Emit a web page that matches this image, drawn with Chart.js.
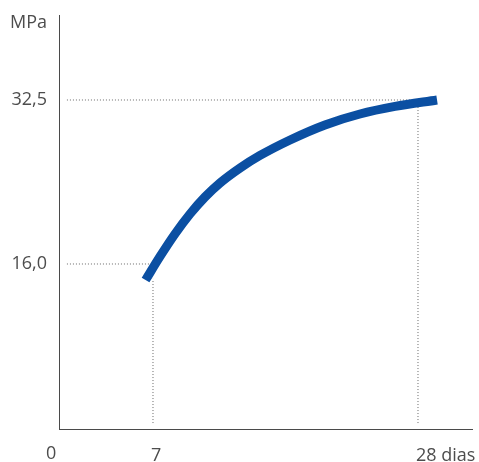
<!DOCTYPE html>
<html>
<head>
<meta charset="utf-8">
<script src="https://cdn.jsdelivr.net/npm/chart.js@4.4.1/dist/chart.umd.min.js"></script>
<style>
  html, body { margin: 0; padding: 0; background: #ffffff; }
  #wrap { width: 479px; height: 462px; position: relative; }
</style>
</head>
<body>
<div id="wrap"><canvas id="c"></canvas></div>
<script>
// ---- data ----
const curveDays = [6.41, 7.56, 8.74, 9.93, 11.12, 12.31, 13.90, 15.48, 17.86, 20.63, 23.40, 26.18, 29.51];
const curveMPa  = [14.39, 16.76, 19.02, 21.03, 22.74, 24.15, 25.66, 26.92, 28.48, 29.99, 31.09, 31.85, 32.50];
const xTickValues = [7, 28];
const xTickLabels = ['7', '28 dias'];
const xOriginLabel = '0';
const yTickValues = [16.0, 32.5];
const yTickLabels = ['16,0', '32,5'];
const yUnitLabel = 'MPa';
const markDays = [7, 28];
const markMPa = [16.0, 32.5];

const FONT = { family: '"Open Sans", "Noto Sans", sans-serif', size: 18 };
const TEXT = '#4d4d4d';
const DOT = '#6a6a6a';

const curveData = curveDays.map((d, i) => ({ x: d, y: curveMPa[i] }));
const guides = [
  [{ x: 0.18, y: markMPa[0] }, { x: 6.8, y: markMPa[0] }],
  [{ x: markDays[0], y: 0 }, { x: markDays[0], y: 14.5 }],
  [{ x: 0.18, y: markMPa[1] }, { x: markDays[1], y: markMPa[1] }],
  [{ x: markDays[1], y: 0 }, { x: markDays[1], y: 32.3 }]
];

const datasets = [{
  data: curveData,
  borderColor: '#0b4fa2',
  borderWidth: 9,
  borderCapStyle: 'butt',
  cubicInterpolationMode: 'monotone',
  pointRadius: 0,
  fill: false
}];
guides.forEach(g => datasets.push({
  data: g,
  borderColor: DOT,
  borderWidth: 1,
  borderDash: [1, 2],
  pointRadius: 0,
  tension: 0,
  fill: false
}));

const extraLabels = {
  id: 'extraLabels',
  afterDraw(chart) {
    const ctx = chart.ctx;
    const xs = chart.scales.x, ys = chart.scales.y;
    ctx.save();
    ctx.font = `${FONT.size}px ${FONT.family}`;
    ctx.fillStyle = TEXT;
    ctx.textAlign = 'right';
    ctx.textBaseline = 'middle';
    ctx.fillText(yUnitLabel, ys.right - 12, chart.chartArea.top + 8);
    ctx.textAlign = 'left';
    ctx.textBaseline = 'top';
    ctx.fillText(xOriginLabel, xs.left - 13, xs.top + 16);
    ctx.restore();
  }
};

new Chart(document.getElementById('c'), {
  type: 'line',
  data: { datasets },
  options: {
    responsive: true,
    maintainAspectRatio: false,
    animation: false,
    layout: { padding: { top: 15, right: 7, left: 0, bottom: 0 } },
    plugins: { legend: { display: false }, tooltip: { enabled: false } },
    scales: {
      x: {
        type: 'linear',
        min: -0.449,
        max: 32.28,
        grid: { display: false, drawTicks: false },
        border: { display: true, color: '#4a4a4a', width: 1 },
        afterBuildTicks: s => { s.ticks = xTickValues.map(v => ({ value: v })); },
        afterFit: s => { s.height = 33; s.paddingLeft = 0; s.paddingRight = 0; },
        ticks: {
          align: 'start',
          labelOffset: -2,
          padding: 16,
          maxRotation: 0,
          autoSkip: false,
          color: TEXT,
          font: FONT,
          callback: (v) => xTickLabels[xTickValues.indexOf(v)]
        }
      },
      y: {
        type: 'linear',
        min: -0.60,
        max: 41.05,
        grid: { display: false, drawTicks: false },
        border: { display: true, color: '#4a4a4a', width: 1 },
        afterBuildTicks: s => { s.ticks = yTickValues.map(v => ({ value: v })); },
        afterFit: s => { s.width = 59; s.paddingTop = 0; s.paddingBottom = 0; },
        ticks: {
          padding: 12,
          color: TEXT,
          font: FONT,
          callback: (v) => yTickLabels[yTickValues.indexOf(v)]
        }
      }
    }
  },
  plugins: [extraLabels]
});
</script>
</body>
</html>
